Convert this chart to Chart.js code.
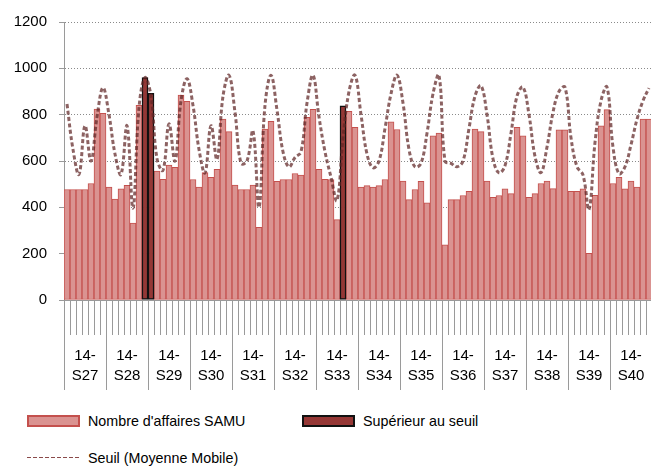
<!DOCTYPE html>
<html>
<head>
<meta charset="utf-8">
<script src="https://cdn.jsdelivr.net/npm/chart.js@4.4.1/dist/chart.umd.min.js"></script>
<style>
  html, body { margin: 0; padding: 0; overflow: hidden; background: #fff; width: 651px; height: 466px; }
  #wrap { position: absolute; left: 0; top: 0; width: 652px; height: 394px; }
  #legend {
    position: absolute; left: 0; top: 402px; width: 651px;
    display: grid; grid-template-columns: 275px 275px; grid-auto-rows: 37px;
    padding-left: 27px; box-sizing: border-box;
    font-family: "Liberation Sans", Arial, sans-serif; font-size: 14.3px; color: #000;
  }
  .item { display: flex; align-items: center; white-space: nowrap; }
  .sw { width: 53px; height: 12px; box-sizing: border-box; margin-right: 8px; flex: none; }
  .sw.line { height: 1.5px; }
</style>
</head>
<body>
<div id="wrap"><canvas id="c" width="652" height="394"></canvas></div>
<div id="legend"></div>
<script>
// ---- Données ----
const annee = '14-';
const semaines = ['S27','S28','S29','S30','S31','S32','S33','S34','S35','S36','S37','S38','S39','S40'];

// Nombre d'affaires SAMU (un point par jour, lundi -> dimanche)
const affaires = [
  477, 477, 477, 477, 503, 824, 806,   // S27
  487, 436, 480, 495, 332, 840, 960,   // S28
  892, 556, 521, 582, 573, 885, 858,   // S29
  520, 487, 550, 529, 564, 781, 727,   // S30
  496, 477, 477, 496, 314, 738, 771,   // S31
  512, 520, 520, 546, 539, 788, 823,   // S32
  564, 521, 520, 347, 838, 814, 745,   // S33
  487, 494, 487, 494, 520, 769, 736,   // S34
  513, 433, 477, 512, 419, 709, 720,   // S35
  238, 433, 433, 451, 469, 738, 727,   // S36
  513, 443, 451, 480, 459, 745, 709,   // S37
  443, 459, 503, 513, 481, 735, 735,   // S38
  469, 469, 480, 201, 452, 752, 822,   // S39
  503, 530, 480, 513, 487, 781, 781    // S40
];

// Seuil (Moyenne Mobile)
const seuil = [
  846, 650, 542, 752, 600, 790, 916,   // S27
  800, 630, 542, 752, 397, 830, 960,   // S28
  880, 610, 560, 760, 600, 860, 955,   // S29
  840, 650, 549, 752, 607, 880, 970,   // S30
  810, 590, 600, 730, 400, 840, 970,   // S31
  820, 640, 575, 615, 640, 850, 970,   // S32
  790, 640, 530, 430, 700, 900, 970,   // S33
  800, 630, 571, 600, 740, 890, 970,   // S34
  850, 650, 575, 590, 720, 890, 970,   // S35
  600, 590, 575, 600, 740, 880, 925,   // S36
  800, 610, 549, 580, 720, 880, 919,   // S37
  800, 620, 550, 660, 810, 900, 919,   // S38
  700, 575, 540, 391, 680, 860, 919,   // S39
  660, 545, 575, 670, 780, 860, 915    // S40
];

// Jours (numéro 1..98) où le nombre d'affaires dépasse le seuil
const joursSuperieurs = [14, 15, 47];

// ---- Construction ----
const jours = [];
semaines.forEach(s => { for (let d = 1; d <= 7; d++) jours.push(annee + s + ' J' + d); });
const estSup = jours.map((_, i) => joursSuperieurs.includes(i + 1));
const dataNormal = affaires.map((v, i) => estSup[i] ? null : v);
const dataSup = affaires.map((v, i) => estSup[i] ? v : null);

const FONT = '"Liberation Sans", Arial, sans-serif';
const GRIS = '#9a9a9a';

const chart = new Chart(document.getElementById('c'), {
  type: 'bar',
  data: {
    labels: jours,
    datasets: [
      {
        label: "Nombre d'affaires SAMU", data: dataNormal,
        backgroundColor: '#DA9391', borderColor: '#C4504D', borderWidth: 1, borderSkipped: false,
        grouped: false, barPercentage: 1, categoryPercentage: 1, order: 2
      },
      {
        label: 'Supérieur au seuil', data: dataSup,
        backgroundColor: '#953735', borderColor: '#111', borderWidth: 1.5, borderSkipped: false,
        grouped: false, barPercentage: 1, categoryPercentage: 1, order: 1
      },
      {
        type: 'line', label: 'Seuil (Moyenne Mobile)', data: seuil,
        borderColor: 'rgba(95,38,38,0.72)', borderWidth: 3, borderDash: [4, 2.5],
        pointRadius: 0, tension: 0.4, fill: false, order: 0
      }
    ]
  },
  options: {
    responsive: false, animation: false, devicePixelRatio: 1,
    layout: { padding: { top: 22, left: 0, right: 0, bottom: 4 } },
    plugins: { legend: { display: false }, tooltip: { enabled: false } },
    scales: {
      x: {
        type: 'category', position: 'bottom', offset: true, weight: 0,
        grid: { offset: true, drawOnChartArea: false, drawTicks: true, tickLength: 35, color: GRIS, tickColor: GRIS },
        border: { display: true, color: GRIS, width: 1 },
        ticks: { display: false, autoSkip: false },
        afterFit: s => { s.height = 35; }
      },
      x2: {
        type: 'category', position: 'bottom', offset: true, weight: 1,
        labels: semaines.map(s => [annee, s]),
        grid: { offset: true, drawOnChartArea: false, drawTicks: true, tickLength: 55, color: GRIS, tickColor: GRIS },
        border: { display: false },
        ticks: { autoSkip: false, maxRotation: 0, padding: -44, color: '#000', font: { family: FONT, size: 15, lineHeight: 1.33 } },
        afterFit: s => { s.height = 55; }
      },
      y: {
        min: 0, max: 1200,
        ticks: { stepSize: 200, padding: 12, color: '#000', font: { family: FONT, size: 15 }, callback: v => String(v) },
        grid: { color: '#8a8a8a', tickColor: GRIS, tickLength: 5, drawTicks: true },
        border: { display: true, color: GRIS, width: 1, dash: [1, 2] },
        afterFit: s => { s.width = 64; }
      }
    }
  }
});

// ---- Légende (HTML, à partir des jeux de données du graphique) ----
const legendEl = document.getElementById('legend');
chart.data.datasets.forEach(ds => {
  const item = document.createElement('div');
  item.className = 'item';
  const sw = document.createElement('span');
  if (ds.type === 'line') {
    sw.className = 'sw line';
    sw.style.background = 'repeating-linear-gradient(to right, #8a4a4a 0 4px, transparent 4px 6px)';
  } else {
    sw.className = 'sw';
    sw.style.background = ds.backgroundColor;
    sw.style.border = '2px solid ' + ds.borderColor;
  }
  const tx = document.createElement('span');
  tx.textContent = ds.label;
  item.appendChild(sw);
  item.appendChild(tx);
  legendEl.appendChild(item);
});
</script>
</body>
</html>
